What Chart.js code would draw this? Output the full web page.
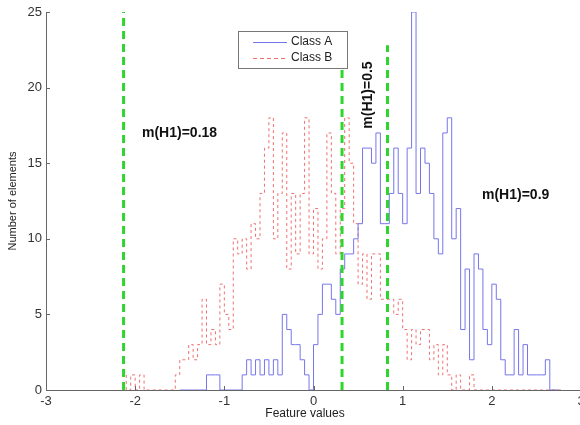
<!DOCTYPE html>
<html lang="en">
<head>
<meta charset="UTF-8">
<title>Class A / Class B feature histogram</title>
<script src="https://cdn.jsdelivr.net/npm/chart.js"></script>
<style>
    html, body { margin: 0; padding: 0; background: #fff; overflow: hidden; }
    .wrap { width: 600px; height: 425px; }
</style>
</head>
<body>
<div class="wrap"><canvas id="histChart" width="600" height="425"></canvas></div>
<script>
    // bins are 0.05 wide, counts start at the given left edge
    const binWidth = 0.05;

    const classAStart = -1.5;
    const classACounts = [
        0, 0, 0, 0, 0, 0, 0, 1, 1, 1,        // -1.50 .. -1.05
        0, 0, 0, 0, 0, 1, 2, 1, 2, 1,        // -1.00 .. -0.55
        2, 1, 2, 1, 5, 4, 3, 3, 2, 1,        // -0.50 .. -0.05
        0, 3, 5, 7, 7, 6, 5, 8, 9, 9,        //  0.00 ..  0.45
        10, 11, 16, 16, 15, 17, 11, 11, 13, 16, //  0.50 ..  0.95
        13, 11, 16, 25, 13, 16, 15, 13, 10, 9,  //  1.00 ..  1.45
        17, 18, 10, 12, 4, 8, 2, 9, 8, 4,    //  1.50 ..  1.95
        3, 7, 6, 2, 1, 1, 4, 1, 3, 1,        //  2.00 ..  2.45
        1, 1, 1, 2, 0                        //  2.50 ..  2.70
    ];

    const classBStart = -2.1;
    const classBCounts = [
        1, 0, 1, 0, 1, 0, 0, 0, 0, 0,        // -2.10 .. -1.65
        0, 0, 1, 2, 2, 3, 2, 3, 6, 3,        // -1.60 .. -1.15
        4, 3, 7, 5, 4, 10, 9, 10, 8, 11,     // -1.10 .. -0.65
        10, 13, 16, 18, 10, 13, 17, 8, 13, 9, // -0.60 .. -0.15
        13, 18, 9, 12, 8, 10, 17, 13, 9, 12, // -0.10 ..  0.35
        18, 15, 11, 7, 9, 6, 9, 9, 6, 6,     //  0.40 ..  0.85
        6, 5, 6, 4, 2, 4, 3, 4, 4, 2,        //  0.90 ..  1.35
        3, 1, 3, 1, 0, 1, 0, 0, 1, 0,        //  1.40 ..  1.85
        0, 0, 0, 0, 0, 0, 0, 0, 0, 0,        //  1.90 ..  2.35
        0, 0, 0, 0, 0, 0, 0, 0               //  2.40 ..  2.75
    ];

    const thresholdX = [-2.13, 0.32, 0.83];
    const thresholdTop = [25, 21.4, 22.8];
    const thresholdLabels = ['m(H1)=0.18', 'm(H1)=0.5', 'm(H1)=0.9'];

    const xTicks = [-3, -2, -1, 0, 1, 2, 3];
    const yTicks = [0, 5, 10, 15, 20, 25];

    const seriesNames = ['Class A', 'Class B'];
    const blue = 'rgb(118,118,236)';
    const red = 'rgb(240,112,112)';
    const green = 'rgb(44,214,44)';

    function histPoints(start, counts) {
        const pts = counts.map((c, i) => ({x: +(start + i * binWidth).toFixed(3), y: c}));
        pts.push({x: +(start + counts.length * binWidth).toFixed(3), y: 0});
        return pts;
    }

    const datasets = [
        {
            label: seriesNames[1],
            data: histPoints(classBStart, classBCounts),
            borderColor: red, borderWidth: 1, borderDash: [3, 3],
            stepped: 'after', pointRadius: 0, fill: false, order: 3
        },
        {
            label: seriesNames[0],
            data: histPoints(classAStart, classACounts),
            borderColor: blue, borderWidth: 1,
            stepped: 'after', pointRadius: 0, fill: false, order: 2
        }
    ];
    thresholdX.forEach((t, i) => {
        datasets.push({
            label: thresholdLabels[i],
            data: [{x: t, y: 0}, {x: t, y: thresholdTop[i]}],
            borderColor: green, borderWidth: 3, borderDash: [8, 5],
            pointRadius: 0, fill: false, order: 1
        });
    });

    // inward ticks, texts and the boxed legend, matlab style
    const decorations = {
        id: 'decorations',
        afterDatasetsDraw(chart) {
            const ctx = chart.ctx;
            const xs = chart.scales.x, ys = chart.scales.y;
            const a = chart.chartArea;
            ctx.save();
            ctx.strokeStyle = '#666';
            ctx.lineWidth = 1;
            xTicks.forEach(v => {
                const px = Math.round(xs.getPixelForValue(v)) + 0.5;
                ctx.beginPath(); ctx.moveTo(px, a.bottom); ctx.lineTo(px, a.bottom - 4); ctx.stroke();
            });
            yTicks.forEach(v => {
                const py = Math.round(ys.getPixelForValue(v)) + 0.5;
                ctx.beginPath(); ctx.moveTo(a.left, py); ctx.lineTo(a.left + 4, py); ctx.stroke();
            });

            // threshold annotations
            ctx.fillStyle = '#111';
            ctx.font = 'bold 14px "Liberation Sans", Arial, sans-serif';
            ctx.textBaseline = 'middle';
            ctx.textAlign = 'left';
            ctx.fillText(thresholdLabels[0], 142, 133);
            ctx.fillText(thresholdLabels[2], 482, 195);
            ctx.save();
            ctx.translate(368, 95);
            ctx.rotate(-Math.PI / 2);
            ctx.textAlign = 'center';
            ctx.fillText(thresholdLabels[1], 0, 0);
            ctx.restore();

            // legend box
            const lx = 238, ly = 31, lw = 109, lh = 37;
            ctx.fillStyle = '#fff';
            ctx.fillRect(lx, ly, lw, lh);
            ctx.strokeStyle = '#777';
            ctx.strokeRect(lx + 0.5, ly + 0.5, lw, lh);
            ctx.lineWidth = 1;
            ctx.strokeStyle = blue;
            ctx.beginPath(); ctx.moveTo(253, 42.5); ctx.lineTo(287, 42.5); ctx.stroke();
            ctx.strokeStyle = red;
            ctx.setLineDash([4, 3]);
            ctx.beginPath(); ctx.moveTo(253, 58.5); ctx.lineTo(287, 58.5); ctx.stroke();
            ctx.setLineDash([]);
            ctx.fillStyle = '#222';
            ctx.font = '12px "Liberation Sans", Arial, sans-serif';
            ctx.textAlign = 'left';
            ctx.fillText(seriesNames[0], 291, 42);
            ctx.fillText(seriesNames[1], 291, 58);

            // axis titles
            ctx.fillStyle = '#222';
            ctx.font = '12px "Liberation Sans", Arial, sans-serif';
            ctx.textAlign = 'center';
            ctx.fillText('Feature values', 305, 414);
            ctx.font = '11px "Liberation Sans", Arial, sans-serif';
            ctx.save();
            ctx.translate(13, 201);
            ctx.rotate(-Math.PI / 2);
            ctx.fillText('Number of elements', 0, 0);
            ctx.restore();
            ctx.restore();
        }
    };

    new Chart(document.getElementById('histChart').getContext('2d'), {
        type: 'line',
        data: {datasets: datasets},
        options: {
            responsive: false,
            animation: false,
            layout: {padding: {top: 12, right: 19, left: 0, bottom: 0}},
            plugins: {legend: {display: false}, tooltip: {enabled: false}},
            scales: {
                x: {
                    type: 'linear', min: -3, max: 3,
                    afterBuildTicks: s => { s.ticks = xTicks.map(v => ({value: v})); },
                    afterFit: s => { s.height = 35; },
                    grid: {display: false, drawTicks: false},
                    border: {display: true, color: '#666'},
                    ticks: {color: '#333', padding: 4, font: {size: 13, family: '"Liberation Sans", Arial'}}
                },
                y: {
                    type: 'linear', min: 0, max: 25,
                    afterBuildTicks: s => { s.ticks = yTicks.map(v => ({value: v})); },
                    afterFit: s => { s.width = 46; },
                    grid: {display: false, drawTicks: false},
                    border: {display: true, color: '#666'},
                    ticks: {color: '#333', padding: 4, font: {size: 13, family: '"Liberation Sans", Arial'}}
                }
            }
        },
        plugins: [decorations]
    });
</script>
</body>
</html>
